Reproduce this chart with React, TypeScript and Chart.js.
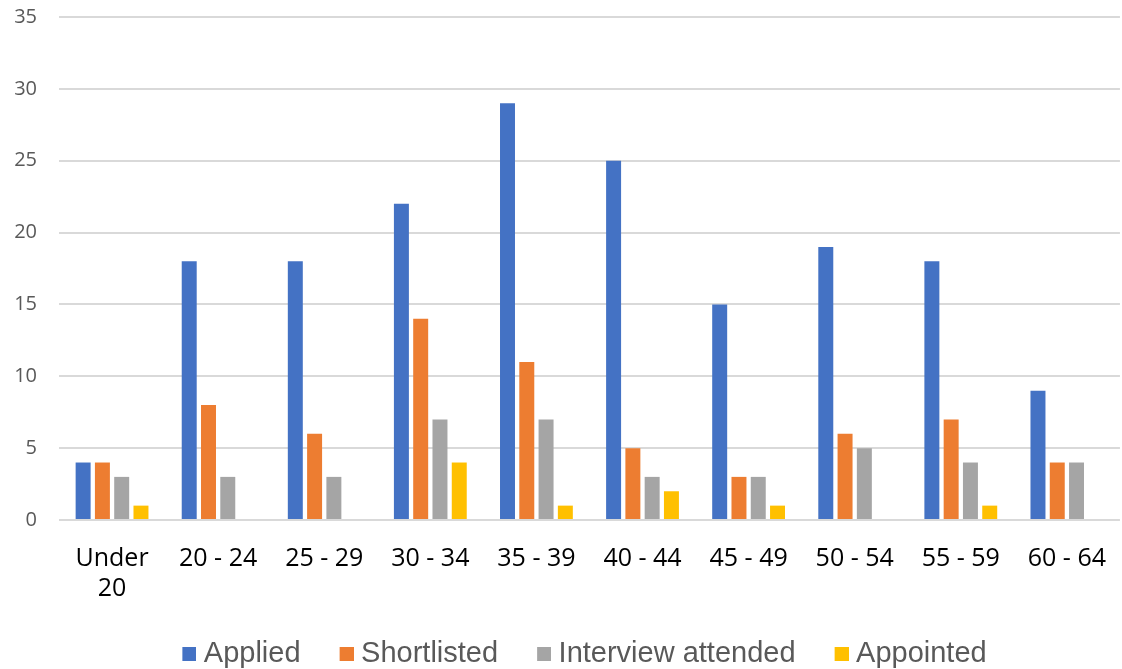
import React, { useEffect, useRef } from "react";
import { Chart, registerables } from "chart.js";

Chart.register(...registerables);

const categories: (string | string[])[] = [
  ["Under", "20"],
  "20 - 24",
  "25 - 29",
  "30 - 34",
  "35 - 39",
  "40 - 44",
  "45 - 49",
  "50 - 54",
  "55 - 59",
  "60 - 64",
];

const applied = [4, 18, 18, 22, 29, 25, 15, 19, 18, 9];
const shortlisted = [4, 8, 6, 14, 11, 5, 3, 6, 7, 4];
const interviewAttended = [3, 3, 3, 7, 7, 3, 3, 5, 4, 4];
const appointed = [1, 0, 0, 4, 1, 2, 1, 0, 1, 0];

const seriesNames = ["Applied", "Shortlisted", "Interview attended", "Appointed"];
const seriesColors = ["#4472C4", "#ED7D31", "#A5A5A5", "#FFC000"];

const yMin = 0;
const yMax = 35;
const yStep = 5;

function makeLegendSwatch(color: string): HTMLCanvasElement {
  // swatch image: transparent left part, coloured 14x14 square on the right,
  // so the square sits closer to the legend text
  const c = document.createElement("canvas");
  c.width = 28;
  c.height = 14;
  const ctx = c.getContext("2d");
  if (ctx) {
    ctx.fillStyle = color;
    ctx.fillRect(14, 0, 14, 14);
  }
  return c;
}

export default function App() {
  const canvasRef = useRef<HTMLCanvasElement | null>(null);

  useEffect(() => {
    document.body.style.margin = "0";
    const canvas = canvasRef.current;
    if (!canvas) return;
    const values = [applied, shortlisted, interviewAttended, appointed];
    const swatches = seriesColors.map(makeLegendSwatch);
    const legendShift = {
      id: "legendShift",
      afterLayout(chart: any) {
        if (chart.legend) chart.legend.left += 36;
      },
    };
    const chart = new Chart(canvas, {
      type: "bar",
      data: {
        labels: categories,
        datasets: values.map((v, i) => ({
          label: seriesNames[i],
          data: v,
          backgroundColor: seriesColors[i],
          borderWidth: 0,
          categoryPercentage: 0.727,
          barPercentage: 0.777,
        })),
      },
      plugins: [legendShift],
      options: {
        animation: false,
        responsive: true,
        maintainAspectRatio: false,
        layout: { padding: { top: 0, right: -4, bottom: -9, left: 0 } },
        plugins: {
          tooltip: { enabled: false },
          legend: {
            position: "bottom",
            labels: {
              boxWidth: 14,
              boxHeight: 14,
              padding: 32,
              usePointStyle: true,
              color: "#595959",
              font: { family: "'Liberation Sans', Arial, sans-serif", size: 29 },
              generateLabels: (ch: any) => {
                const items = (Chart.defaults.plugins.legend.labels as any).generateLabels(ch);
                return items.map((it: any) => ({ ...it, pointStyle: swatches[it.datasetIndex] }));
              },
            },
          },
        },
        scales: {
          x: {
            grid: { display: false },
            border: { display: false },
            ticks: {
              color: "#000000",
              font: { family: "'Open Sans', sans-serif", size: 25 },
              maxRotation: 0,
              autoSkip: false,
              padding: 16,
            },
            afterFit: (scale: any) => {
              scale.height = 87;
            },
          },
          y: {
            min: yMin,
            max: yMax,
            ticks: {
              stepSize: yStep,
              color: "#595959",
              font: { family: "'Open Sans', sans-serif", size: 20 },
              padding: 22,
            },
            grid: { color: "#D9D9D9", lineWidth: 2, drawTicks: false },
            border: { display: false },
            afterFit: (scale: any) => {
              scale.width = 59;
            },
          },
        },
      },
    });
    return () => chart.destroy();
  }, []);

  return (
    <div style={{ width: 1122, height: 669, position: "relative", overflow: "hidden" }}>
      <div style={{ position: "absolute", left: 0, top: -17, width: 1122, height: 686 }}>
        <canvas ref={canvasRef} />
      </div>
    </div>
  );
}
